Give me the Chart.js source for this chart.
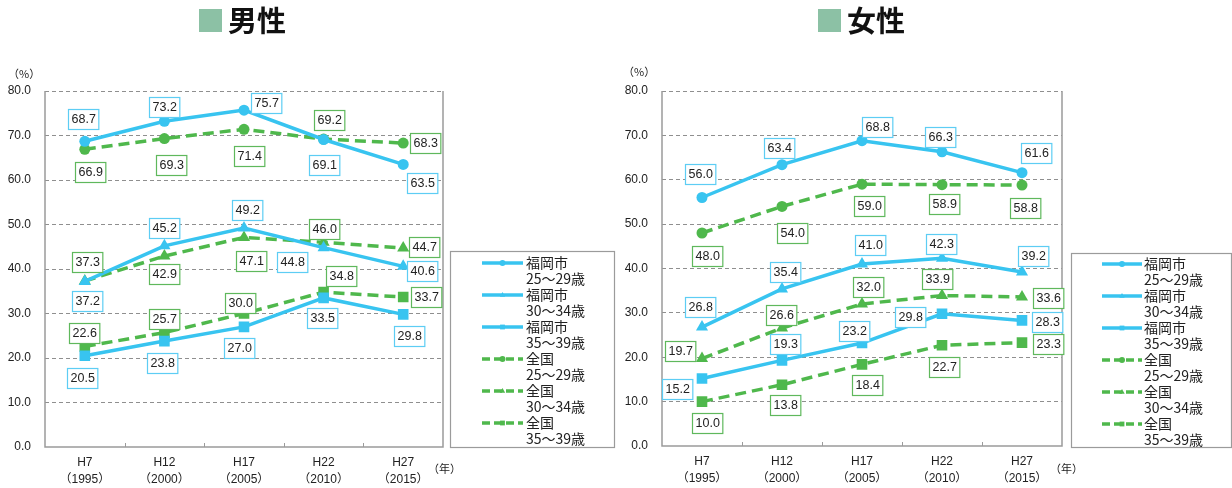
<!DOCTYPE html>
<html>
<head>
<meta charset="utf-8">
<script src="https://cdn.jsdelivr.net/npm/chart.js@4.4.1/dist/chart.umd.min.js"></script>
<style>
  html, body { margin:0; padding:0; background:#fff; }
  body { width:1232px; height:488px; position:relative; overflow:hidden; font-family:'Noto Sans CJK JP', sans-serif; }
  .wrap { position:absolute; top:0; width:616px; height:488px; }
  .sq { position:absolute; width:23px; height:23px; background:#8cc1a5; }
  .ttl { position:absolute; font-size:29px; font-weight:bold; line-height:29px; color:#111; font-family:'Noto Sans CJK JP', sans-serif; }
  .note { position:absolute; font-size:11px; color:#222; line-height:12px; font-family:'Noto Sans CJK JP', sans-serif; }
</style>
</head>
<body>
<div class="wrap" style="left:0"><canvas id="cMale" width="616" height="488"></canvas></div>
<div class="wrap" style="left:616px"><canvas id="cFemale" width="616" height="488"></canvas></div>

<div class="sq" style="left:199px;top:9px"></div>
<div class="ttl" style="left:228px;top:5px">男性</div>
<div class="sq" style="left:818px;top:9px"></div>
<div class="ttl" style="left:847px;top:5px">女性</div>

<div class="note" style="left:8px;top:67px">（%）</div>
<div class="note" style="left:623px;top:65px">（%）</div>
<div class="note" style="left:428px;top:462px">（年）</div>
<div class="note" style="left:1050px;top:462px">（年）</div>

<script>
// ---------- data ----------
const categories = [['H7','（1995）'], ['H12','（2000）'], ['H17','（2005）'], ['H22','（2010）'], ['H27','（2015）']];
const seriesLabels = ['福岡市\n25～29歳', '福岡市\n30～34歳', '福岡市\n35～39歳', '全国\n25～29歳', '全国\n30～34歳', '全国\n35～39歳'];
const yTicks = [0, 10, 20, 30, 40, 50, 60, 70, 80];

// 男性
const maleFukuoka2529 = [68.7, 73.2, 75.7, 69.1, 63.5];
const maleFukuoka3034 = [37.2, 45.2, 49.2, 44.8, 40.6];
const maleFukuoka3539 = [20.5, 23.8, 27.0, 33.5, 29.8];
const maleNational2529 = [66.9, 69.3, 71.4, 69.2, 68.3];
const maleNational3034 = [37.3, 42.9, 47.1, 46.0, 44.7];
const maleNational3539 = [22.6, 25.7, 30.0, 34.8, 33.7];

// 女性
const femaleFukuoka2529 = [56.0, 63.4, 68.8, 66.3, 61.6];
const femaleFukuoka3034 = [26.8, 35.4, 41.0, 42.3, 39.2];
const femaleFukuoka3539 = [15.2, 19.3, 23.2, 29.8, 28.3];
const femaleNational2529 = [48.0, 54.0, 59.0, 58.9, 58.8];
const femaleNational3034 = [19.7, 26.6, 32.0, 33.9, 33.6];
const femaleNational3539 = [10.0, 13.8, 18.4, 22.7, 23.3];

// ---------- label placement (style) ----------
const maleLabelOffsets = [
  [[-2,-22],[0,-14],[22,-7],[1,25],[19,19]],
  [[2,20],[0,-18],[3,-18],[-31,14],[19,5]],
  [[-3,22],[-2,22],[-5,21],[-1,20],[6,22]],
  [[5,23],[7,26],[5,27],[6,-19],[22,0]],
  [[2,-19],[0,18],[7,24],[1,-13],[21,-1]],
  [[-1,-13],[0,-14],[-4,-11],[18,-16],[23,0]]
];
const femaleLabelOffsets = [
  [[-2,-24],[-3,-17],[15,-14],[-2,-15],[14,-20]],
  [[-2,-20],[3,-17],[8,-19],[-1,-14],[11,-16]],
  [[-25,10],[3,-16],[-8,-12],[-32,3],[25,2]],
  [[5,23],[10,27],[7,22],[2,19],[3,23]],
  [[-22,-8],[-1,-13],[6,-17],[-5,-17],[26,1]],
  [[5,21],[3,20],[5,21],[2,22],[26,1]]
];

const BLUE = '#38c4f0';
const GREEN = '#4fb84c';
const BLUE_BOX = '#5dcdf4';
const GREEN_BOX = '#5fb85c';
const styles = [
  {color: BLUE, box: BLUE_BOX, dash: [], point: 'circle', r: 5.5},
  {color: BLUE, box: BLUE_BOX, dash: [], point: 'triangle', r: 7},
  {color: BLUE, box: BLUE_BOX, dash: [], point: 'rect', r: 7.5},
  {color: GREEN, box: GREEN_BOX, dash: [11,6], point: 'circle', r: 5.5},
  {color: GREEN, box: GREEN_BOX, dash: [11,6], point: 'triangle', r: 7},
  {color: GREEN, box: GREEN_BOX, dash: [11,6], point: 'rect', r: 7.5}
];

function makeDatasets(seriesList, offsets) {
  return seriesList.map((vals, i) => ({
    label: seriesLabels[i],
    data: vals,
    borderColor: styles[i].color,
    backgroundColor: styles[i].color,
    borderWidth: 3.5,
    borderDash: styles[i].dash,
    pointStyle: styles[i].point,
    pointRadius: styles[i].r,
    pointBorderWidth: 0,
    pointBackgroundColor: styles[i].color,
    tension: 0,
    labelOffsets: offsets[i],
    labelBox: styles[i].box
  }));
}

const NUM_FONT = "'Liberation Sans', 'Noto Sans CJK JP', sans-serif";

const framePlugin = {
  id: 'frame',
  beforeDatasetsDraw(chart) {
    const {ctx, chartArea: {left, right, top, bottom}} = chart;
    const xs = chart.scales.x;
    ctx.save();
    ctx.strokeStyle = '#9b9b9b';
    ctx.lineWidth = 1.5;
    ctx.setLineDash([]);
    ctx.beginPath();
    ctx.moveTo(left, top);
    ctx.lineTo(left, bottom);
    ctx.lineTo(right, bottom);
    ctx.lineTo(right, top);
    ctx.stroke();
    ctx.lineWidth = 1;
    ctx.beginPath();
    for (let i = 0; i < categories.length - 1; i++) {
      const x = Math.round((xs.getPixelForValue(i) + xs.getPixelForValue(i + 1)) / 2) + 0.5;
      ctx.moveTo(x, bottom);
      ctx.lineTo(x, bottom - 4);
    }
    ctx.stroke();
    ctx.restore();
  }
};

const valueLabelPlugin = {
  id: 'valueLabels',
  afterDatasetsDraw(chart) {
    const ctx = chart.ctx;
    ctx.save();
    ctx.font = '12.5px ' + NUM_FONT;
    ctx.textAlign = 'center';
    ctx.textBaseline = 'middle';
    chart.data.datasets.forEach((ds, di) => {
      const meta = chart.getDatasetMeta(di);
      meta.data.forEach((pt, i) => {
        const off = ds.labelOffsets[i];
        const cx = pt.x + off[0];
        const cy = pt.y + off[1];
        const text = ds.data[i].toFixed(1);
        const w = ctx.measureText(text).width + 6;
        const h = 20;
        const bx = Math.round(cx - w / 2) + 0.5;
        const by = Math.round(cy - h / 2) + 0.5;
        ctx.fillStyle = '#fff';
        ctx.fillRect(bx, by, w, h);
        ctx.strokeStyle = ds.labelBox;
        ctx.lineWidth = 1.2;
        ctx.setLineDash([]);
        ctx.strokeRect(bx, by, w, h);
        ctx.fillStyle = '#222';
        ctx.fillText(text, bx + w / 2, by + h / 2 + 0.5);
      });
    });
    ctx.restore();
  }
};

function drawMarker(ctx, style, x, y, r) {
  ctx.beginPath();
  if (style === 'circle') {
    ctx.arc(x, y, r, 0, Math.PI * 2);
  } else if (style === 'triangle') {
    ctx.moveTo(x, y - r);
    ctx.lineTo(x + r * 0.9, y + r * 0.6);
    ctx.lineTo(x - r * 0.9, y + r * 0.6);
    ctx.closePath();
  } else {
    ctx.rect(x - r * 0.8, y - r * 0.8, r * 1.6, r * 1.6);
  }
  ctx.fill();
}

const boxLegendPlugin = {
  id: 'boxLegend',
  afterDraw(chart, args, o) {
    const ctx = chart.ctx;
    ctx.save();
    ctx.strokeStyle = '#9b9b9b';
    ctx.lineWidth = 1.2;
    ctx.setLineDash([]);
    ctx.strokeRect(o.x + 0.5, o.y + 0.5, o.w, o.h);
    chart.data.datasets.forEach((ds, i) => {
      const y = o.firstY + i * o.step;
      ctx.strokeStyle = ds.borderColor;
      ctx.fillStyle = ds.borderColor;
      ctx.lineWidth = 3.5;
      ctx.setLineDash(ds.borderDash && ds.borderDash.length ? [8, 4] : []);
      ctx.beginPath();
      ctx.moveTo(o.lineX1, y);
      ctx.lineTo(o.lineX2, y);
      ctx.stroke();
      ctx.setLineDash([]);
      drawMarker(ctx, ds.pointStyle, (o.lineX1 + o.lineX2) / 2, y, 3);
      ctx.fillStyle = '#222';
      ctx.font = "14px 'Noto Sans CJK JP', sans-serif";
      ctx.textAlign = 'left';
      ctx.textBaseline = 'middle';
      ds.label.split('\n').forEach((line, k) => {
        ctx.fillText(line, o.textX, y + k * o.lineGap);
      });
    });
    ctx.restore();
  }
};

function makeChart(id, datasets, geo) {
  return new Chart(document.getElementById(id), {
    type: 'line',
    data: { labels: categories, datasets },
    plugins: [framePlugin, valueLabelPlugin, boxLegendPlugin],
    options: {
      responsive: false,
      animation: false,
      devicePixelRatio: 1,
      layout: { padding: { top: geo.top, right: geo.right, left: 0, bottom: 0 } },
      plugins: {
        legend: { display: false },
        tooltip: { enabled: false },
        title: { display: false },
        boxLegend: geo.legend
      },
      scales: {
        x: {
          type: 'category',
          offset: true,
          grid: { display: false, drawTicks: false },
          border: { display: false },
          ticks: {
            color: '#222',
            font: { size: 12, family: NUM_FONT, lineHeight: 1.4 },
            padding: 7,
            maxRotation: 0,
            autoSkip: false
          },
          afterFit(scale) { scale.height = geo.xHeight; }
        },
        y: {
          min: 0,
          max: 80,
          afterBuildTicks(scale) { scale.ticks = yTicks.map(v => ({ value: v })); },
          grid: {
            drawTicks: false,
            color: (c) => (c.tick && c.tick.value === 0) ? 'rgba(0,0,0,0)' : '#8f8f8f',
            lineWidth: 1
          },
          border: { display: false, dash: [4, 3] },
          ticks: {
            color: '#222',
            font: { size: 12, family: NUM_FONT },
            padding: 14,
            callback: (v) => Number(v).toFixed(1)
          },
          afterFit(scale) { scale.width = geo.yWidth; }
        }
      }
    }
  });
}

makeChart('cMale',
  makeDatasets([maleFukuoka2529, maleFukuoka3034, maleFukuoka3539, maleNational2529, maleNational3034, maleNational3539], maleLabelOffsets),
  { top: 91, right: 173, yWidth: 45, xHeight: 41,
    legend: { x: 450, y: 251, w: 164, h: 196, lineX1: 482, lineX2: 523, textX: 526, firstY: 263, step: 32, lineGap: 16 } });

makeChart('cFemale',
  makeDatasets([femaleFukuoka2529, femaleFukuoka3034, femaleFukuoka3539, femaleNational2529, femaleNational3034, femaleNational3539], femaleLabelOffsets),
  { top: 91, right: 170, yWidth: 46, xHeight: 42,
    legend: { x: 455, y: 253, w: 160, h: 194, lineX1: 486, lineX2: 526, textX: 528, firstY: 264, step: 32, lineGap: 16 } });
</script>
</body>
</html>
